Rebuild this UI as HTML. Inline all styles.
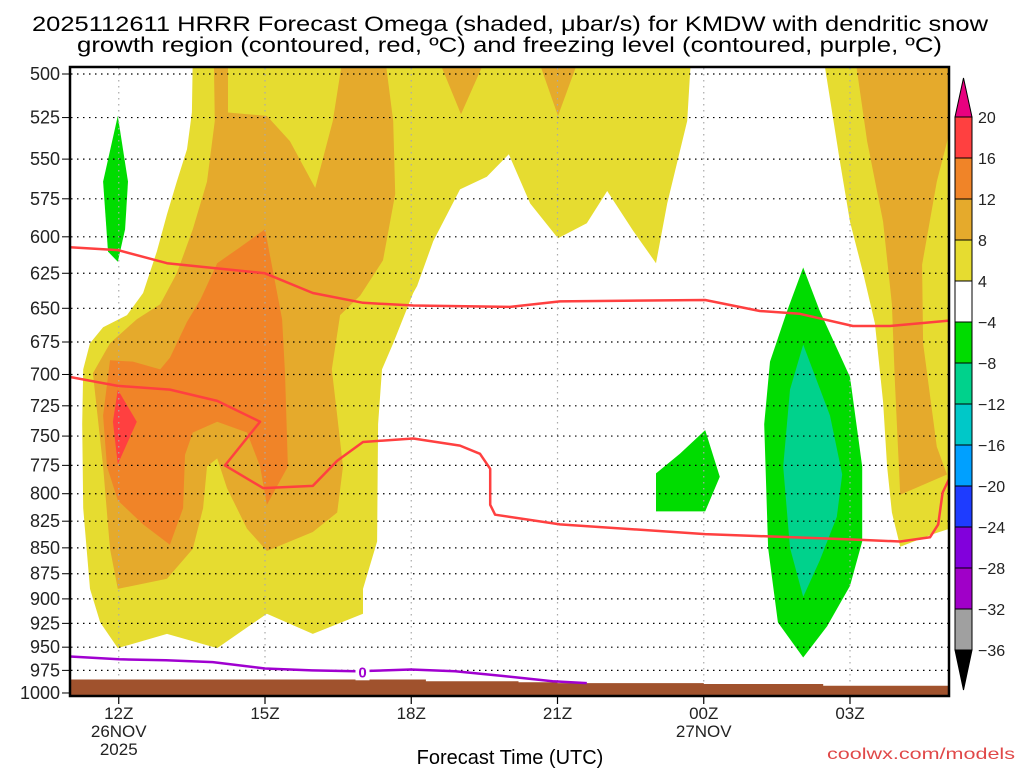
<!DOCTYPE html>
<html><head><meta charset="utf-8"><title>HRRR Omega KMDW</title>
<style>
html,body{margin:0;padding:0;background:#fff;}
svg{display:block;font-family:"Liberation Sans",sans-serif;}
</style></head>
<body>
<svg id="chart" width="1024" height="768" viewBox="0 0 1024 768" xmlns="http://www.w3.org/2000/svg">
<defs><clipPath id="plotclip"><rect x="70" y="67" width="879" height="629"/></clipPath></defs>
<text x="32" y="31" font-size="21" textLength="956" lengthAdjust="spacingAndGlyphs">2025112611 HRRR Forecast Omega (shaded, μbar/s) for KMDW with dendritic snow</text>
<text x="77" y="52" font-size="21" textLength="865" lengthAdjust="spacingAndGlyphs">growth region (contoured, red, ºC) and freezing level (contoured, purple, ºC)</text>
<g id="fills" clip-path="url(#plotclip)"></g>
<g id="grid"></g>
<g id="lines" clip-path="url(#plotclip)"></g>
<rect x="70" y="67" width="879" height="629" fill="none" stroke="#000" stroke-width="2.5"/>
<g id="axes"></g>
<g id="cbar"></g>
<text x="510" y="764" font-size="20" text-anchor="middle">Forecast Time (UTC)</text>
<text x="1015" y="759" font-size="16" text-anchor="end" fill="#e04848" textLength="188" lengthAdjust="spacingAndGlyphs">coolwx.com/models</text>
</svg>
<script>
// ---- data (hour since 00Z 26NOV, pressure hPa) ----
const yellowLeftH=[13.52,13.5,13.4,13.19,12.99,12.78,12.5,12.17,11.68,11.41,11.27,11.25,11.27,11.41,11.62,11.98,12.99,14.02,15.04,15.98,17.01,17.01,17.3,17.32,17.4,17.63,18.04,18.12,18.45,19.0,19.55,20.0,20.44,21.01,21.6,22.02,22.55,23.02,23.25,23.66,23.74];
const yellowLeftP=[490,522,544,564,585,610,639,655,664,676,696,740,813,890,924,951,936,951,915,936,915,890,844,740,696,676,639,634,603,569,561,547,578,601,591,570,596,618,578,527,490];
const yellowRightH=[26.45,26.79,27.0,27.27,27.51,27.68,27.76,27.86,28.03,28.7,29.1,29.1];
const yellowRightP=[490,551,590,625,661,722,776,817,849,837,831,490];
const goldLeftH=[13.95,14.24,14.24,15.04,15.51,16.03,16.39,16.6,17.46,17.63,17.67,17.42,16.95,16.54,16.37,16.48,16.6,16.48,15.98,15.04,14.63,14.22,14.02,13.81,13.73,13.52,12.99,11.98,11.82,11.68,11.47,11.82,12.37,12.85,13.19,13.52,13.81,13.97];
const goldLeftP=[490,490,522,524,539,568,527,490,490,527,572,616,641,655,696,733,776,817,835,853,832,795,769,776,813,851,880,890,851,776,699,676,658,647,625,595,564,527];
const goldRightH=[27.1,27.35,27.68,27.86,27.92,28.03,28.99,28.78,28.5,28.48,28.78,29.1,29.1];
const goldRightP=[490,539,590,647,706,801,783,759,676,619,564,527,490];
const goldTop1H=[18.53,19.55,19.02], goldTop1P=[490,490,523];
const goldTop2H=[20.58,21.46,21.01], goldTop2P=[490,490,524];
const orangeH=[15.0,15.35,15.41,15.47,15.04,14.9,14.63,14.02,13.52,13.36,13.32,13.05,12.5,11.98,11.76,11.68,11.82,12.29,12.85,13.05,13.4,13.67,14.02,14.49];
const orangeP=[595,658,699,776,810,776,747,738,747,766,813,847,828,806,776,733,689,690,696,687,660,644,618,607];
const redH=[11.98,12.37,11.98,11.88], redP=[712,738,774,738];
const greenLeftH=[11.98,12.19,12.13,11.98,11.78,11.68], greenLeftP=[524,564,595,617,610,564];
const greenMidH=[23.02,23.51,24.03,24.33,24.03,23.02], greenMidP=[782,765,745,785,816,816];
const greenRightH=[26.04,26.38,27.0,27.25,27.25,27.0,26.53,26.04,25.52,25.32,25.24,25.36,25.71];
const greenRightP=[621,652,702,776,844,887,928,961,924,850,740,690,652];
const tealH=[26.04,26.59,26.84,26.73,26.38,26.04,25.77,25.63,25.77], tealP=[677,733,783,821,862,898,850,776,712];
// isotherm lines (dendritic growth region, red)
const dgzTopH=[11,11.98,12.99,15.0,15.98,17.01,18.04,20.03,21.05,24.03,25.15,25.97,27.06,27.82,29.03];
const dgzTopP=[607,609,618,625,639,646,648,649,645,644,652,654,663,663,659];
const dgzBotH=[11,11.98,13.05,14.02,14.9,14.18,14.96,15.98,16.48,17.01,18.04,19.0,19.41,19.62,19.62,19.72,21.05,24.03,27.0,28.03,28.64,28.81,28.9,29.03];
const dgzBotP=[702,709,712,721,738,775,795,793,771,755,752,758,765,778,810,819,828,837,842,844,840,828,799,787];
// freezing level (purple)
const frzH=[11,12.0,12.97,13.93,15.0,15.96,16.87,17.99,18.9,19.86,20.9,21.6];
const frzP=[960,963,964,966,973,975,976,974,976,981,987,989];
// terrain surface pressure
const sfcH=[11,18.3,18.3,20.2,20.2,21,21,24,24,26.45,26.45,29.1];
const sfcP=[985,985,987,987,988,988,989,989,990,990,992,992];
// axes
const pTicks=[500,525,550,575,600,625,650,675,700,725,750,775,800,825,850,875,900,925,950,975,1000];
const tHours=[12,15,18,21,24,27];
const tLabels=["12Z","15Z","18Z","21Z","00Z","03Z"];
const tDates=["26NOV","","","","27NOV",""];
const tYears=["2025","","","","",""];
const cbLevels=[20,16,12,8,4,-4,-8,-12,-16,-20,-24,-28,-32,-36];
const cbColors=["#ff4040","#f08428","#e5aa2c","#e6dc30","#ffffff","#00dc00","#00d28c","#00c8c8","#00a0ff","#1e3cff","#8200dc","#a000c8","#a0a0a0"];

const NS="http://www.w3.org/2000/svg";
function X(h){return 70+(h-11)*48.75;}
function Y(p){return 74+893*Math.log(p/500);}
function mk(tag,attrs,parent){const e=document.createElementNS(NS,tag);for(const k in attrs)e.setAttribute(k,attrs[k]);parent.appendChild(e);return e;}
function pts(H,P){return H.map((h,i)=>X(h).toFixed(1)+","+Y(P[i]).toFixed(1)).join(" ");}

const fills=document.getElementById('fills');
function poly(H,P,color,name){
  const e=mk('polygon',{points:pts(H,P),fill:color},fills);
  
  
}
poly(yellowLeftH,yellowLeftP,"#e6dc30","omega-4-8-left");
poly(yellowRightH,yellowRightP,"#e6dc30","omega-4-8-right");
poly(goldLeftH,goldLeftP,"#e5aa2c","omega-8-12-left");
poly(goldRightH,goldRightP,"#e5aa2c","omega-8-12-right");
poly(goldTop1H,goldTop1P,"#e5aa2c","omega-8-12-top1");
poly(goldTop2H,goldTop2P,"#e5aa2c","omega-8-12-top2");
poly(orangeH,orangeP,"#f08428","omega-12-16");
poly(redH,redP,"#ff4040","omega-16-20");
poly(greenLeftH,greenLeftP,"#00dc00","omega-neg4-left");
poly(greenMidH,greenMidP,"#00dc00","omega-neg4-mid");
poly(greenRightH,greenRightP,"#00dc00","omega-neg4-right");
poly(tealH,tealP,"#00d28c","omega-neg8");

// grid
const grid=document.getElementById('grid');
pTicks.forEach(p=>{
  const e=mk('line',{x1:71,x2:948,y1:Y(p),y2:Y(p),stroke:"#000","stroke-width":1.2,"stroke-dasharray":"1.5,4.5"},grid);
  
  
});
tHours.forEach(h=>{
  const e=mk('line',{x1:X(h),x2:X(h),y1:68,y2:695,stroke:"#aaa","stroke-width":1.2,"stroke-dasharray":"1.5,4.5"},grid);
  
  
});

// lines
const lines=document.getElementById('lines');
let sp="M"+X(sfcH[0])+","+Y(sfcP[0]);
sfcH.forEach((h,i)=>{sp+=" L"+X(h).toFixed(1)+","+Y(sfcP[i]).toFixed(1);});
sp+=" L949,697 L69,697 Z";
const terr=mk('path',{d:sp,fill:"#a0522d"},lines);


function pl(H,P,color,name){
  const e=mk('polyline',{points:pts(H,P),fill:"none",stroke:color,"stroke-width":2.5,"stroke-linejoin":"round"},lines);
  
  
}
pl(dgzTopH,dgzTopP,"#ff4040","dgz-minus12-isotherm");
pl(dgzBotH,dgzBotP,"#ff4040","dgz-minus18-isotherm");
pl(frzH,frzP,"#a000d0","freezing-level");
const flbg=mk('rect',{x:X(17.0)-7,y:Y(976)-9,width:14,height:18,fill:"#fff"},lines);


const fl=mk('text',{x:X(17.0),y:Y(976)+6,"font-size":15,"font-weight":"bold","text-anchor":"middle",fill:"#a000d0"},lines);
fl.textContent="0";



// axes
const axes=document.getElementById('axes');
pTicks.forEach(p=>{
  const t=mk('text',{x:60,y:Y(p)+6,"font-size":18,"text-anchor":"end",fill:"#222"},axes);
  t.textContent=p;
  
  
  const k=mk('line',{x1:62,x2:70,y1:Y(p),y2:Y(p),stroke:"#000","stroke-width":1},axes);
  
  
});
tHours.forEach((h,i)=>{
  const k=mk('line',{x1:X(h),x2:X(h),y1:696,y2:704,stroke:"#000","stroke-width":1.2},axes);
  
  
  [[tLabels[i],719],[tDates[i],737],[tYears[i],755]].forEach(([s,y])=>{
    if(!s)return;
    const t=mk('text',{x:X(h),y:y,"font-size":17,"text-anchor":"middle",fill:"#222"},axes);
    t.textContent=s;
    
    
  });
});

// colorbar
const cb=document.getElementById('cbar');
const cbTop=117, cbStep=41, cx0=955, cw=17;
const up=mk('polygon',{points:`${cx0},${cbTop} ${cx0+cw},${cbTop} ${cx0+cw/2},78`,fill:"#e8007f",stroke:"#000","stroke-width":1},cb);


cbColors.forEach((c,i)=>{
  const r=mk('rect',{x:cx0,y:cbTop+i*cbStep,width:cw,height:cbStep,fill:c,stroke:"#000","stroke-width":1},cb);
  
  
});
const yb=cbTop+cbColors.length*cbStep;
const dn=mk('polygon',{points:`${cx0},${yb} ${cx0+cw},${yb} ${cx0+cw/2},${yb+40}`,fill:"#000",stroke:"#000","stroke-width":1},cb);


cbLevels.forEach((v,i)=>{
  const t=mk('text',{x:978,y:cbTop+i*cbStep+6,"font-size":16,fill:"#222"},cb);
  t.textContent=v<0?"\u2212"+(-v):String(v);
  
  
});
</script>
</body></html>
